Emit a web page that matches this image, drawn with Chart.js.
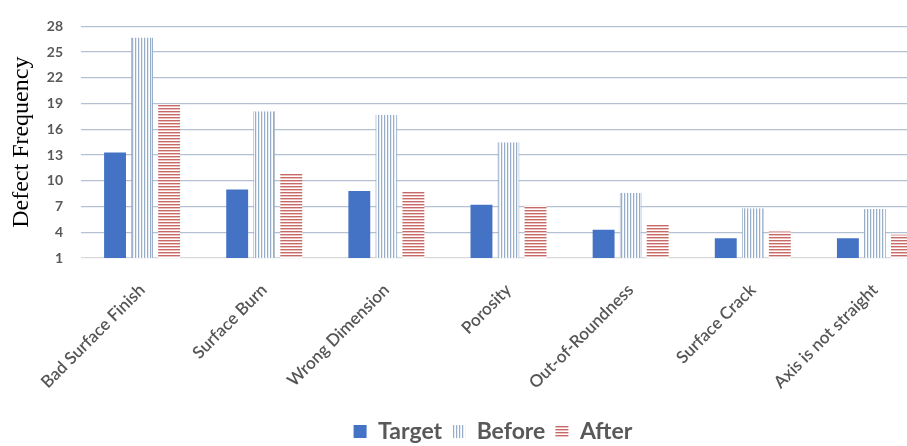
<!DOCTYPE html>
<html>
<head>
<meta charset="utf-8">
<script src="https://cdn.jsdelivr.net/npm/chart.js@4.4.1/dist/chart.umd.min.js"></script>
<style>
  html, body { margin: 0; padding: 0; background: #fff; overflow: hidden; width: 907px; height: 446px; }
  #wrap { position: relative; width: 940px; height: 453px; }
</style>
</head>
<body>
<div id="wrap"><canvas id="c" width="940" height="453"></canvas></div>
<script>
// Defect categories and frequencies per stage
const categories = ['Bad Surface Finish', 'Surface Burn', 'Wrong Dimension', 'Porosity',
                    'Out-of-Roundness', 'Surface Crack', 'Axis is not straight'];
const targetValues = [13.3, 9.0, 8.8, 7.2, 4.3, 3.3, 3.3];
const beforeValues = [26.7, 18.1, 17.7, 14.5, 8.6, 6.8, 6.7];
const afterValues  = [18.9, 10.9, 8.7, 7.1, 4.9, 4.1, 3.7];
const seriesNames  = ['Target', 'Before', 'After'];
const yTickValues  = [1, 4, 7, 10, 13, 16, 19, 22, 25, 28];
const yAxisTitle   = 'Defect Frequency';

const canvas = document.getElementById('c');
const ctx = canvas.getContext('2d');

// Striped fills: vertical lines for "Before", horizontal lines for "After"
function stripePattern(vertical, rows) {
  const tile = document.createElement('canvas');
  tile.width = vertical ? rows.length : 1;
  tile.height = vertical ? 1 : rows.length;
  const g = tile.getContext('2d');
  rows.forEach((col, i) => {
    g.fillStyle = col;
    if (vertical) g.fillRect(i, 0, 1, 1); else g.fillRect(0, i, 1, 1);
  });
  return ctx.createPattern(tile, 'repeat');
}
const beforeFill = stripePattern(true, ['#98adc8', '#e6ecf3', '#ffffff']);
const afterFill  = stripePattern(false, ['#c66a68', '#ecc2c1', '#ffffff']);

// Moves the bottom legend so it sits under the middle of the figure
const legendShift = {
  id: 'legendShift',
  afterLayout(chart) {
    const lg = chart.legend;
    if (lg) { lg.left += 25; lg.right += 25; }
  }
};

new Chart(ctx, {
  type: 'bar',
  data: {
    labels: categories,
    datasets: [
      { label: seriesNames[0], data: targetValues, backgroundColor: '#4472c4', borderWidth: 0 },
      { label: seriesNames[1], data: beforeValues, backgroundColor: beforeFill,
        borderColor: '#98adc8', borderWidth: { left: 1, right: 1, top: 0, bottom: 0 } },
      { label: seriesNames[2], data: afterValues, backgroundColor: afterFill, borderWidth: 0 }
    ]
  },
  options: {
    responsive: false,
    animation: false,
    devicePixelRatio: 1,
    categoryPercentage: 0.664,
    barPercentage: 0.81,
    layout: { padding: { top: 15, right: 4, left: 0, bottom: 0 } },
    plugins: {
      tooltip: { enabled: false },
      legend: {
        position: 'bottom',
        labels: {
          boxWidth: 13,
          boxHeight: 13,
          padding: 10,
          color: '#595959',
          font: { family: 'Lato', size: 23, weight: 'bold' },
          generateLabels(chart) {
            return Chart.defaults.plugins.legend.labels.generateLabels(chart).map(l => {
              l.lineWidth = 0;
              l.strokeStyle = 'rgba(0,0,0,0)';
              return l;
            });
          }
        }
      }
    },
    scales: {
      x: {
        grid: { display: false },
        border: { display: false },
        ticks: {
          autoSkip: false,
          minRotation: 45,
          maxRotation: 45,
          padding: 14,
          color: '#555555',
          font: { family: 'Lato', size: 17, weight: '600' }
        },
        afterFit(scale) { scale.height = 152; }
      },
      y: {
        min: yTickValues[0],
        max: yTickValues[yTickValues.length - 1],
        border: { display: false },
        grid: {
          drawTicks: false,
          lineWidth: 1.3,
          color: c => (c.tick && c.tick.value === yTickValues[0]) ? '#d9d9d9' : '#b4c1d2'
        },
        ticks: {
          stepSize: yTickValues[1] - yTickValues[0],
          padding: 18,
          color: '#595959',
          font: { family: 'Lato', size: 14, weight: 'bold' }
        },
        title: {
          display: true,
          text: yAxisTitle,
          color: '#000',
          padding: { top: 7, bottom: 0 },
          font: { family: 'Liberation Serif', size: 24 }
        },
        afterFit(scale) { scale.width = 81; }
      }
    }
  },
  plugins: [legendShift]
});
</script>
</body>
</html>
